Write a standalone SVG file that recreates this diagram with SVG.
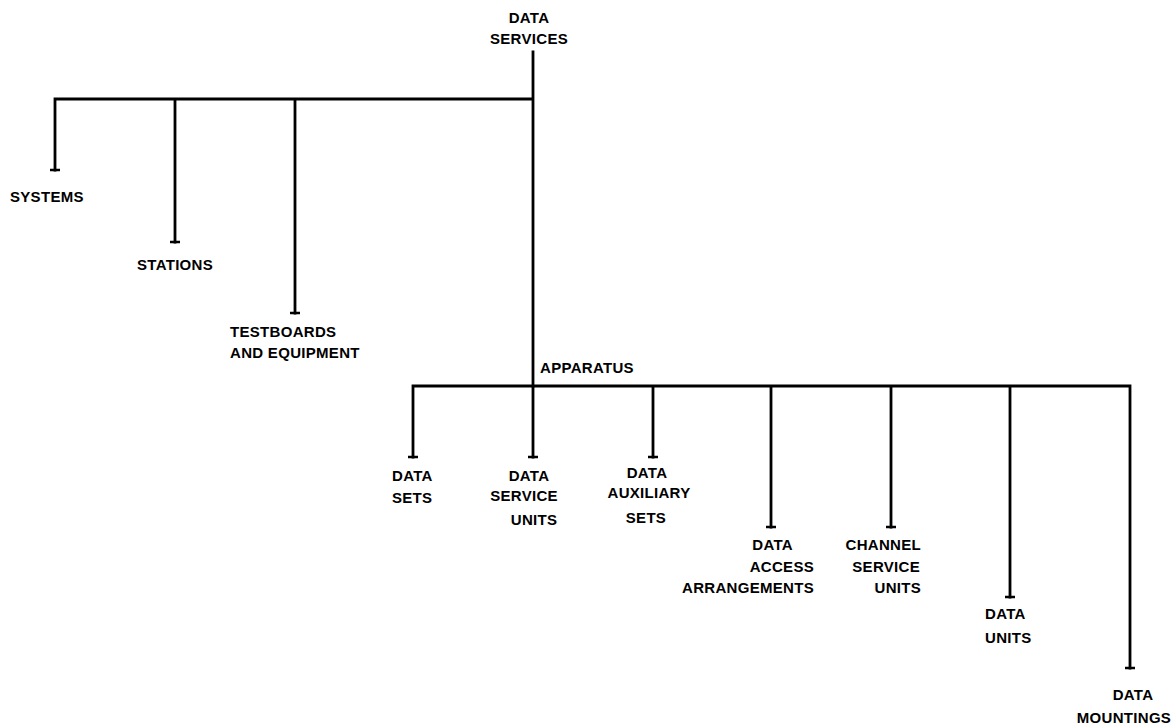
<svg xmlns="http://www.w3.org/2000/svg" width="1175" height="725" viewBox="0 0 1175 725">
<style>
.ln{stroke:#000;stroke-width:2.8;fill:none;stroke-linecap:square}
.tk{stroke:#000;stroke-width:2.4;fill:none}
text{font-family:"Liberation Sans",Arial,sans-serif;font-weight:bold;font-size:15px;letter-spacing:0.3px;fill:#000}
.m{text-anchor:middle}
.e{text-anchor:end}
</style>
<rect width="1175" height="725" fill="#fff"/>
<g id="connectors">
<path class="ln" d="M533 52V386M55 99H533M55 99V170M175 99V242M295 99V313"/>
<path class="ln" d="M413 386H1130M413 386V457M533 386V457M653 386V457M771 386V527M891 386V527M1010 386V597M1130 386V668"/>
<path class="tk" d="M50 170H60M170 242H180M290 313H300M408 457H418M528 457H538M648 457H658M766 527H776M886 527H896M1005 597H1015M1125 668H1135"/>
</g>
<g id="data-services"><text class="m" x="529" y="23">DATA</text><text class="m" x="529" y="44">SERVICES</text></g>
<g id="systems"><text x="10" y="202">SYSTEMS</text></g>
<g id="stations"><text x="137" y="270">STATIONS</text></g>
<g id="testboards"><text x="230" y="337">TESTBOARDS</text><text x="230" y="358">AND EQUIPMENT</text></g>
<g id="apparatus"><text x="540" y="373">APPARATUS</text></g>
<g id="data-sets"><text x="392" y="481">DATA</text><text x="392" y="503">SETS</text></g>
<g id="data-service-units"><text class="m" x="529" y="481">DATA</text><text class="m" x="524" y="501">SERVICE</text><text class="m" x="534" y="525">UNITS</text></g>
<g id="data-auxiliary-sets"><text class="m" x="647" y="478">DATA</text><text class="m" x="649" y="498">AUXILIARY</text><text class="m" x="646" y="523">SETS</text></g>
<g id="data-access-arrangements"><text class="e" x="793" y="550">DATA</text><text class="e" x="814" y="572">ACCESS</text><text class="e" x="814" y="593">ARRANGEMENTS</text></g>
<g id="channel-service-units"><text class="e" x="921" y="550">CHANNEL</text><text class="e" x="920" y="572">SERVICE</text><text class="e" x="921" y="593">UNITS</text></g>
<g id="data-units"><text x="985" y="619">DATA</text><text x="985" y="643">UNITS</text></g>
<g id="data-mountings"><text class="m" x="1133" y="700">DATA</text><text class="m" x="1124" y="723">MOUNTINGS</text></g>
</svg>
